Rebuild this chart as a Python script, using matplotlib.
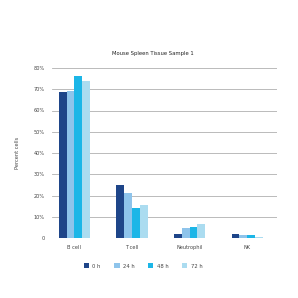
import matplotlib.pyplot as plt
import numpy as np

# data
categories = ['B cell', 'T cell', 'Neutrophil', 'NK']
series_names = ['0 h', '24 h', '48 h', '72 h']
h0 = [68.5, 25.0, 1.8, 1.7]
h24 = [69.2, 21.2, 4.7, 1.6]
h48 = [76.1, 14.0, 5.0, 1.4]
h72 = [73.8, 15.3, 6.5, 0.5]
yticks = [0, 10, 20, 30, 40, 50, 60, 70, 80]
ytick_labels = ['0', '10%', '20%', '30%', '40%', '50%', '60%', '70%', '80%']

colors = ['#1E4589', '#8EC4EB', '#1CB6E7', '#ABDCF0']

fig = plt.figure(figsize=(2.98, 2.98), dpi=100)
ax = fig.add_axes([52/298, 1-238/298, 225/298, 170/298])

x = np.arange(len(categories))
w = 0.135
for i, (vals, name) in enumerate(zip([h0, h24, h48, h72], series_names)):
    ax.bar(x + (i - 1.5)*w, vals, width=w, color=colors[i], label=name, zorder=3)

ax.set_ylim(0, 80)
ax.set_xlim(-0.39, 3.52)
ax.set_yticks(yticks)
ax.set_yticklabels(ytick_labels)
ax.set_xticks(x)
ax.set_xticklabels(categories)
ax.yaxis.grid(True, color='#b0b0b0', linewidth=0.6, zorder=0)
for s in ax.spines.values():
    s.set_visible(False)
ax.tick_params(axis='both', length=0, labelsize=3.6, colors='#444444', pad=5)
ax.set_ylabel('Percent cells', fontsize=3.6, color='#444444', labelpad=10)

fig.text(153/298, 1-54/298, 'Mouse Spleen Tissue Sample 1', ha='center', va='center',
         fontsize=3.8, color='#222222')

ax.legend(loc='center', bbox_to_anchor=((143-52)/225, (238-266)/170), ncol=4, frameon=False,
          fontsize=3.8, handlelength=1.0, handleheight=1.0, columnspacing=2.6,
          handletextpad=0.6, labelcolor='#444444')

plt.savefig('out.png', dpi=100)
